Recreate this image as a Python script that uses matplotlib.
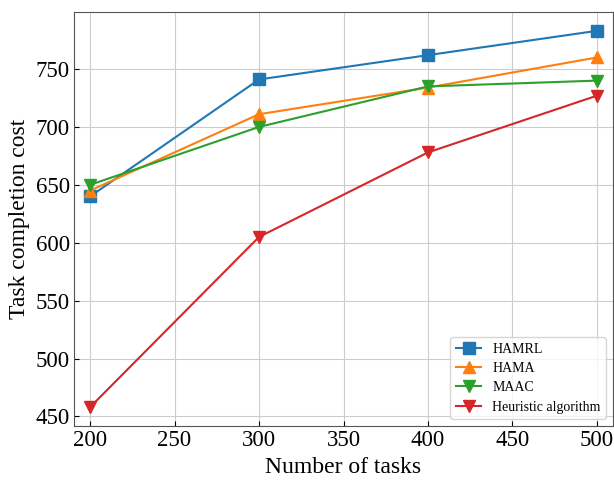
import matplotlib
matplotlib.use("Agg")
import matplotlib.pyplot as plt

tasks = [200, 300, 400, 500]
hamrl = [640, 741, 762, 783]
hama = [645, 711, 734, 760]
maac = [650, 700, 735, 740]
heuristic = [458, 605, 678, 727]

plt.rcParams['font.family'] = ['Liberation Serif', 'DejaVu Serif']

fig = plt.figure(figsize=(6.14, 4.8), dpi=100)
ax = fig.add_axes([74/614, 1-426/480, (613-74)/614, (426-12)/480])

ax.plot(tasks, hamrl, marker='s', color='#1f77b4', markersize=8, label='HAMRL')
ax.plot(tasks, hama, marker='^', color='#ff7f0e', markersize=8, label='HAMA')
ax.plot(tasks, maac, marker='v', color='#2ca02c', markersize=8, label='MAAC')
ax.plot(tasks, heuristic, marker='v', color='#d62728', markersize=8, label='Heuristic algorithm')

ax.set_xlim(190.5, 509.5)
ax.set_xticks([200, 250, 300, 350, 400, 450, 500])
ax.set_yticks([450, 500, 550, 600, 650, 700, 750])
ax.grid(True, color='#cccccc', linewidth=0.8)
ax.tick_params(direction='in', labelsize=16.5, pad=3)
ax.set_xlabel('Number of tasks', fontsize=17, labelpad=4)
ax.set_ylabel('Task completion cost', fontsize=17, labelpad=4)
for s in ax.spines.values():
    s.set_color('#555555')
ax.legend(loc='lower right', fontsize=10, handlelength=1.8, labelspacing=0.45)

fig.savefig('out.png', dpi=100)
